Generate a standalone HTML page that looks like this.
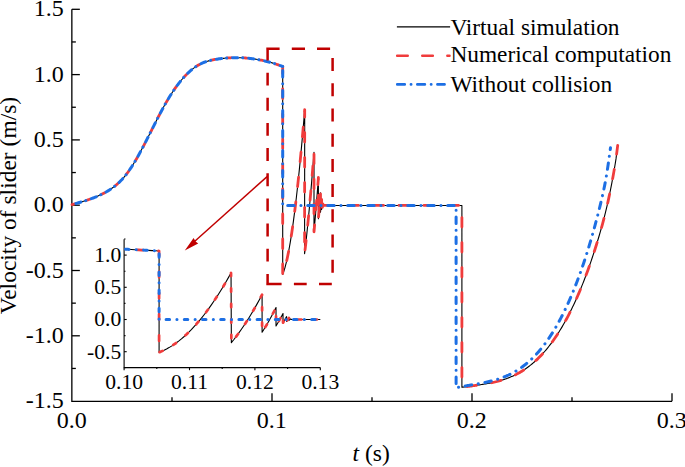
<!DOCTYPE html>
<html><head><meta charset="utf-8"><style>
html,body{margin:0;padding:0;background:#fff;width:685px;height:467px;overflow:hidden;font-family:"Liberation Serif",serif;}
svg{display:block;}
</style></head><body>
<svg width="685" height="467" viewBox="0 0 685 467">
<rect width="685" height="467" fill="#fff"/>
<g style="font-family:&quot;Liberation Serif&quot;,serif" fill="#000">
<text x="63.7" y="16.40" font-size="24.0" text-anchor="end">1.5</text>
<text x="63.7" y="81.70" font-size="24.0" text-anchor="end">1.0</text>
<text x="63.7" y="147.00" font-size="24.0" text-anchor="end">0.5</text>
<text x="63.7" y="212.30" font-size="24.0" text-anchor="end">0.0</text>
<text x="63.7" y="277.60" font-size="24.0" text-anchor="end">-0.5</text>
<text x="63.7" y="342.90" font-size="24.0" text-anchor="end">-1.0</text>
<text x="63.7" y="408.20" font-size="24.0" text-anchor="end">-1.5</text>
<text x="71.70" y="428.1" font-size="24.0" text-anchor="middle">0.0</text>
<text x="271.70" y="428.1" font-size="24.0" text-anchor="middle">0.1</text>
<text x="471.70" y="428.1" font-size="24.0" text-anchor="middle">0.2</text>
<text x="671.70" y="428.1" font-size="24.0" text-anchor="middle">0.3</text>
<text x="371.2" y="460.8" font-size="23.5" text-anchor="middle"><tspan font-style="italic">t</tspan> (s)</text>
<text transform="translate(16.2,205.5) rotate(-90)" font-size="23.5" text-anchor="middle">Velocity of slider (m/s)</text>
<text x="450.4" y="34.7" font-size="23.35">Virtual simulation</text>
<text x="450.4" y="62.4" font-size="23.35">Numerical computation</text>
<text x="450.4" y="91.9" font-size="23.35">Without collision</text>
<text x="121.2" y="262.00" font-size="21.6" text-anchor="end">1.0</text>
<text x="121.2" y="294.20" font-size="21.6" text-anchor="end">0.5</text>
<text x="121.2" y="326.40" font-size="21.6" text-anchor="end">0.0</text>
<text x="121.2" y="358.60" font-size="21.6" text-anchor="end">-0.5</text>
<text x="124.10" y="389" font-size="21.6" text-anchor="middle">0.10</text>
<text x="189.50" y="389" font-size="21.6" text-anchor="middle">0.11</text>
<text x="254.90" y="389" font-size="21.6" text-anchor="middle">0.12</text>
<text x="320.30" y="389" font-size="21.6" text-anchor="middle">0.13</text>
</g>
<g stroke="#000" stroke-width="1.3" fill="none">
<path d="M71.85,9.3 V401.3 H672"/>
<line x1="71.85" y1="368.45" x2="75.85" y2="368.45"/><line x1="71.85" y1="335.80" x2="79.85" y2="335.80"/><line x1="71.85" y1="303.15" x2="75.85" y2="303.15"/><line x1="71.85" y1="270.50" x2="79.85" y2="270.50"/><line x1="71.85" y1="237.85" x2="75.85" y2="237.85"/><line x1="71.85" y1="205.20" x2="79.85" y2="205.20"/><line x1="71.85" y1="172.55" x2="75.85" y2="172.55"/><line x1="71.85" y1="139.90" x2="79.85" y2="139.90"/><line x1="71.85" y1="107.25" x2="75.85" y2="107.25"/><line x1="71.85" y1="74.60" x2="79.85" y2="74.60"/><line x1="71.85" y1="41.95" x2="75.85" y2="41.95"/><line x1="71.85" y1="9.30" x2="79.85" y2="9.30"/>
<line x1="172.00" y1="401.3" x2="172.00" y2="397.30"/><line x1="272.00" y1="401.3" x2="272.00" y2="393.30"/><line x1="372.00" y1="401.3" x2="372.00" y2="397.30"/><line x1="472.00" y1="401.3" x2="472.00" y2="393.30"/><line x1="572.00" y1="401.3" x2="572.00" y2="397.30"/><line x1="672.00" y1="401.3" x2="672.00" y2="393.30"/>
</g>
<g stroke="#000" stroke-width="1.1" fill="none">
<path d="M124.10,239.2 V367.6 H320.30"/>
<line x1="124.10" y1="367.80" x2="125.50" y2="367.80"/><line x1="124.10" y1="351.70" x2="126.70" y2="351.70"/><line x1="124.10" y1="335.60" x2="125.50" y2="335.60"/><line x1="124.10" y1="319.50" x2="126.70" y2="319.50"/><line x1="124.10" y1="303.40" x2="125.50" y2="303.40"/><line x1="124.10" y1="287.30" x2="126.70" y2="287.30"/><line x1="124.10" y1="271.20" x2="125.50" y2="271.20"/><line x1="124.10" y1="255.10" x2="126.70" y2="255.10"/><line x1="124.10" y1="239.00" x2="125.50" y2="239.00"/>
<line x1="124.10" y1="367.6" x2="124.10" y2="370.20"/><line x1="156.80" y1="367.6" x2="156.80" y2="369.00"/><line x1="189.50" y1="367.6" x2="189.50" y2="370.20"/><line x1="222.20" y1="367.6" x2="222.20" y2="369.00"/><line x1="254.90" y1="367.6" x2="254.90" y2="370.20"/><line x1="287.60" y1="367.6" x2="287.60" y2="369.00"/><line x1="320.30" y1="367.6" x2="320.30" y2="370.20"/>
</g>
<path d="M72.00,204.60 L73.06,204.30 L74.12,204.00 L75.18,203.70 L76.24,203.40 L77.29,203.10 L78.35,202.80 L79.41,202.49 L80.47,202.19 L81.53,201.87 L82.59,201.56 L83.65,201.23 L84.71,200.90 L85.76,200.57 L86.82,200.23 L87.88,199.88 L88.94,199.52 L90.00,199.15 L91.06,198.77 L92.12,198.38 L93.18,197.99 L94.23,197.58 L95.29,197.15 L96.35,196.72 L97.41,196.27 L98.47,195.80 L99.53,195.32 L100.59,194.83 L101.65,194.32 L102.71,193.79 L103.76,193.25 L104.82,192.69 L105.88,192.10 L106.94,191.50 L108.00,190.87 L109.06,190.21 L110.12,189.53 L111.18,188.82 L112.23,188.07 L113.29,187.30 L114.35,186.48 L115.41,185.64 L116.47,184.75 L117.53,183.83 L118.59,182.86 L119.65,181.85 L120.70,180.79 L121.76,179.69 L122.82,178.53 L123.88,177.33 L124.94,176.07 L126.00,174.76 L127.06,173.39 L128.12,171.97 L129.17,170.49 L130.23,168.95 L131.29,167.36 L132.35,165.71 L133.41,164.02 L134.47,162.29 L135.53,160.51 L136.59,158.69 L137.65,156.84 L138.70,154.95 L139.76,153.02 L140.82,151.07 L141.88,149.10 L142.94,147.09 L144.00,145.07 L145.06,143.03 L146.12,140.97 L147.17,138.90 L148.23,136.82 L149.29,134.73 L150.35,132.63 L151.41,130.54 L152.47,128.44 L153.53,126.34 L154.59,124.25 L155.64,122.17 L156.70,120.10 L157.76,118.04 L158.82,116.00 L159.88,113.97 L160.94,111.97 L162.00,109.99 L163.06,108.04 L164.12,106.11 L165.17,104.22 L166.23,102.36 L167.29,100.54 L168.35,98.76 L169.41,97.02 L170.47,95.32 L171.53,93.65 L172.59,92.03 L173.64,90.45 L174.70,88.91 L175.76,87.41 L176.82,85.95 L177.88,84.53 L178.94,83.15 L180.00,81.81 L181.06,80.51 L182.11,79.25 L183.17,78.04 L184.23,76.86 L185.29,75.72 L186.35,74.63 L187.41,73.58 L188.47,72.56 L189.53,71.59 L190.58,70.66 L191.64,69.77 L192.70,68.92 L193.76,68.11 L194.82,67.35 L195.88,66.62 L196.94,65.94 L198.00,65.30 L199.06,64.70 L200.11,64.14 L201.17,63.61 L202.23,63.13 L203.29,62.68 L204.35,62.26 L205.41,61.88 L206.47,61.52 L207.53,61.19 L208.58,60.89 L209.64,60.61 L210.70,60.35 L211.76,60.11 L212.82,59.89 L213.88,59.68 L214.94,59.49 L216.00,59.32 L217.05,59.15 L218.11,58.99 L219.17,58.84 L220.23,58.70 L221.29,58.57 L222.35,58.45 L223.41,58.33 L224.47,58.23 L225.53,58.13 L226.58,58.04 L227.64,57.96 L228.70,57.89 L229.76,57.83 L230.82,57.78 L231.88,57.74 L232.94,57.70 L234.00,57.68 L235.05,57.66 L236.11,57.66 L237.17,57.66 L238.23,57.67 L239.29,57.69 L240.35,57.72 L241.41,57.76 L242.47,57.80 L243.52,57.86 L244.58,57.93 L245.64,58.00 L246.70,58.08 L247.76,58.18 L248.82,58.28 L249.88,58.39 L250.94,58.51 L251.99,58.64 L253.05,58.78 L254.11,58.93 L255.17,59.09 L256.23,59.25 L257.29,59.43 L258.35,59.62 L259.41,59.81 L260.47,60.02 L261.52,60.23 L262.58,60.45 L263.64,60.69 L264.70,60.93 L265.76,61.18 L266.82,61.44 L267.88,61.71 L268.94,61.99 L269.99,62.28 L271.05,62.58 L272.11,62.89 L273.17,63.21 L274.23,63.53 L275.29,63.87 L276.35,64.22 L277.41,64.58 L278.46,64.94 L279.52,65.32 L280.58,65.70 L281.64,66.10 L282.70,66.50 L282.70,274.54 L282.70,274.54 L283.46,272.47 L284.22,270.14 L284.98,267.55 L285.74,264.70 L286.50,261.58 L287.25,258.20 L288.01,254.57 L288.77,250.67 L289.53,246.51 L290.29,242.10 L291.05,237.42 L291.81,232.49 L292.56,227.30 L293.32,221.86 L294.08,216.16 L294.84,210.20 L295.60,203.99 L296.36,197.52 L297.12,190.80 L297.87,183.82 L298.63,176.59 L299.39,169.11 L300.15,161.38 L300.91,153.40 L301.67,145.16 L302.42,136.68 L303.18,127.94 L303.94,118.95 L304.70,109.72 L304.60,253.77 L305.38,247.02 L306.17,239.96 L306.95,232.59 L307.73,224.91 L308.52,216.92 L309.30,208.62 L310.08,200.00 L310.87,191.08 L311.65,181.85 L312.43,172.31 L313.22,162.46 L314.00,152.30 L314.00,231.83 L314.37,227.80 L314.73,223.68 L315.10,219.47 L315.47,215.17 L315.83,210.78 L316.20,206.30 L316.57,201.72 L316.93,197.06 L317.30,192.31 L317.67,187.46 L318.03,182.53 L318.40,177.50 L318.40,218.64 L318.58,216.61 L318.75,214.57 L318.93,212.50 L319.10,210.41 L319.27,208.30 L319.45,206.16 L319.62,204.01 L319.80,201.83 L319.98,199.63 L320.15,197.41 L320.32,195.17 L320.50,192.91 L320.50,212.24 L320.60,211.16 L320.69,210.09 L320.78,209.01 L320.88,207.93 L320.98,206.85 L321.07,205.78 L321.16,204.70 L321.26,203.62 L321.36,202.54 L321.45,201.47 L321.54,200.39 L321.64,199.31 L321.64,209.37 L321.70,208.77 L321.76,208.17 L321.82,207.57 L321.88,206.97 L321.94,206.38 L322.00,205.78 L322.06,205.18 L322.12,204.58 L322.18,203.98 L322.24,203.38 L322.30,202.78 L322.36,202.19 L322.36,207.41 L322.41,207.14 L322.45,206.86 L322.50,206.59 L322.55,206.32 L322.59,206.05 L322.64,205.78 L322.69,205.50 L322.73,205.23 L322.78,204.96 L322.83,204.69 L322.87,204.42 L322.92,204.14 L323.20,205.45 L461.90,205.45 L461.90,387.32 L461.90,387.32 L462.93,387.16 L463.97,387.00 L465.00,386.85 L466.04,386.71 L467.07,386.56 L468.11,386.42 L469.14,386.28 L470.17,386.14 L471.21,386.00 L472.24,385.86 L473.28,385.72 L474.31,385.58 L475.34,385.44 L476.38,385.29 L477.41,385.15 L478.45,385.00 L479.48,384.86 L480.52,384.70 L481.55,384.55 L482.58,384.39 L483.62,384.22 L484.65,384.06 L485.69,383.88 L486.72,383.70 L487.76,383.52 L488.79,383.33 L489.82,383.13 L490.86,382.92 L491.89,382.71 L492.93,382.48 L493.96,382.25 L495.00,382.01 L496.03,381.76 L497.06,381.50 L498.10,381.23 L499.13,380.95 L500.17,380.66 L501.20,380.36 L502.23,380.04 L503.27,379.72 L504.30,379.38 L505.34,379.02 L506.37,378.65 L507.41,378.27 L508.44,377.88 L509.47,377.46 L510.51,377.04 L511.54,376.60 L512.58,376.14 L513.61,375.66 L514.65,375.17 L515.68,374.66 L516.71,374.13 L517.75,373.58 L518.78,373.02 L519.82,372.43 L520.85,371.83 L521.89,371.20 L522.92,370.56 L523.95,369.89 L524.99,369.20 L526.02,368.49 L527.06,367.76 L528.09,367.01 L529.12,366.23 L530.16,365.43 L531.19,364.60 L532.23,363.75 L533.26,362.88 L534.30,361.98 L535.33,361.05 L536.36,360.10 L537.40,359.13 L538.43,358.12 L539.47,357.09 L540.50,356.03 L541.54,354.94 L542.57,353.82 L543.60,352.68 L544.64,351.50 L545.67,350.30 L546.71,349.06 L547.74,347.80 L548.78,346.50 L549.81,345.17 L550.84,343.81 L551.88,342.41 L552.91,340.99 L553.95,339.53 L554.98,338.03 L556.01,336.51 L557.05,334.94 L558.08,333.35 L559.12,331.71 L560.15,330.04 L561.19,328.34 L562.22,326.60 L563.25,324.82 L564.29,323.00 L565.32,321.15 L566.36,319.25 L567.39,317.32 L568.43,315.35 L569.46,313.34 L570.49,311.29 L571.53,309.20 L572.56,307.06 L573.60,304.89 L574.63,302.67 L575.67,300.41 L576.70,298.11 L577.73,295.76 L578.77,293.37 L579.80,290.93 L580.84,288.44 L581.87,285.91 L582.90,283.33 L583.94,280.69 L584.97,278.01 L586.01,275.28 L587.04,272.49 L588.08,269.66 L589.11,266.77 L590.14,263.82 L591.18,260.82 L592.21,257.76 L593.25,254.65 L594.28,251.48 L595.32,248.26 L596.35,244.97 L597.38,241.62 L598.42,238.22 L599.45,234.74 L600.49,231.18 L601.52,227.52 L602.56,223.76 L603.59,219.87 L604.62,215.85 L605.66,211.67 L606.69,207.34 L607.73,202.83 L608.76,198.14 L609.79,193.24 L610.83,188.13 L611.86,182.79 L612.90,177.21 L613.93,171.37 L614.97,165.27 L616.00,158.89 L617.70,145.30" fill="none" stroke="#000" stroke-width="1.1" stroke-linejoin="round"/>
<path d="M72.00,204.60 L73.06,204.30 L74.12,204.00 L75.18,203.70 L76.24,203.40 L77.29,203.10 L78.35,202.80 L79.41,202.49 L80.47,202.19 L81.53,201.87 L82.59,201.56 L83.65,201.23 L84.71,200.90 L85.76,200.57 L86.82,200.23 L87.88,199.88 L88.94,199.52 L90.00,199.15 L91.06,198.77 L92.12,198.38 L93.18,197.99 L94.23,197.58 L95.29,197.15 L96.35,196.72 L97.41,196.27 L98.47,195.80 L99.53,195.32 L100.59,194.83 L101.65,194.32 L102.71,193.79 L103.76,193.25 L104.82,192.69 L105.88,192.10 L106.94,191.50 L108.00,190.87 L109.06,190.21 L110.12,189.53 L111.18,188.82 L112.23,188.07 L113.29,187.30 L114.35,186.48 L115.41,185.64 L116.47,184.75 L117.53,183.83 L118.59,182.86 L119.65,181.85 L120.70,180.79 L121.76,179.69 L122.82,178.53 L123.88,177.33 L124.94,176.07 L126.00,174.76 L127.06,173.39 L128.12,171.97 L129.17,170.49 L130.23,168.95 L131.29,167.36 L132.35,165.71 L133.41,164.02 L134.47,162.29 L135.53,160.51 L136.59,158.69 L137.65,156.84 L138.70,154.95 L139.76,153.02 L140.82,151.07 L141.88,149.10 L142.94,147.09 L144.00,145.07 L145.06,143.03 L146.12,140.97 L147.17,138.90 L148.23,136.82 L149.29,134.73 L150.35,132.63 L151.41,130.54 L152.47,128.44 L153.53,126.34 L154.59,124.25 L155.64,122.17 L156.70,120.10 L157.76,118.04 L158.82,116.00 L159.88,113.97 L160.94,111.97 L162.00,109.99 L163.06,108.04 L164.12,106.11 L165.17,104.22 L166.23,102.36 L167.29,100.54 L168.35,98.76 L169.41,97.02 L170.47,95.32 L171.53,93.65 L172.59,92.03 L173.64,90.45 L174.70,88.91 L175.76,87.41 L176.82,85.95 L177.88,84.53 L178.94,83.15 L180.00,81.81 L181.06,80.51 L182.11,79.25 L183.17,78.04 L184.23,76.86 L185.29,75.72 L186.35,74.63 L187.41,73.58 L188.47,72.56 L189.53,71.59 L190.58,70.66 L191.64,69.77 L192.70,68.92 L193.76,68.11 L194.82,67.35 L195.88,66.62 L196.94,65.94 L198.00,65.30 L199.06,64.70 L200.11,64.14 L201.17,63.61 L202.23,63.13 L203.29,62.68 L204.35,62.26 L205.41,61.88 L206.47,61.52 L207.53,61.19 L208.58,60.89 L209.64,60.61 L210.70,60.35 L211.76,60.11 L212.82,59.89 L213.88,59.68 L214.94,59.49 L216.00,59.32 L217.05,59.15 L218.11,58.99 L219.17,58.84 L220.23,58.70 L221.29,58.57 L222.35,58.45 L223.41,58.33 L224.47,58.23 L225.53,58.13 L226.58,58.04 L227.64,57.96 L228.70,57.89 L229.76,57.83 L230.82,57.78 L231.88,57.74 L232.94,57.70 L234.00,57.68 L235.05,57.66 L236.11,57.66 L237.17,57.66 L238.23,57.67 L239.29,57.69 L240.35,57.72 L241.41,57.76 L242.47,57.80 L243.52,57.86 L244.58,57.93 L245.64,58.00 L246.70,58.08 L247.76,58.18 L248.82,58.28 L249.88,58.39 L250.94,58.51 L251.99,58.64 L253.05,58.78 L254.11,58.93 L255.17,59.09 L256.23,59.25 L257.29,59.43 L258.35,59.62 L259.41,59.81 L260.47,60.02 L261.52,60.23 L262.58,60.45 L263.64,60.69 L264.70,60.93 L265.76,61.18 L266.82,61.44 L267.88,61.71 L268.94,61.99 L269.99,62.28 L271.05,62.58 L272.11,62.89 L273.17,63.21 L274.23,63.53 L275.29,63.87 L276.35,64.22 L277.41,64.58 L278.46,64.94 L279.52,65.32 L280.58,65.70 L281.64,66.10 L282.70,66.50" fill="none" stroke="#f03c3c" stroke-width="2.8" stroke-dasharray="3.8 12.4" stroke-dashoffset="1.14" stroke-linecap="round" stroke-linejoin="round"/>
<path d="M282.70,66.50 L282.70,274.54 L282.70,274.54 L283.46,272.47 L284.22,270.14 L284.98,267.55 L285.74,264.70 L286.50,261.58 L287.25,258.20 L288.01,254.57 L288.77,250.67 L289.53,246.51 L290.29,242.10 L291.05,237.42 L291.81,232.49 L292.56,227.30 L293.32,221.86 L294.08,216.16 L294.84,210.20 L295.60,203.99 L296.36,197.52 L297.12,190.80 L297.87,183.82 L298.63,176.59 L299.39,169.11 L300.15,161.38 L300.91,153.40 L301.67,145.16 L302.42,136.68 L303.18,127.94 L303.94,118.95 L304.70,109.72 L304.60,253.77 L305.38,247.02 L306.17,239.96 L306.95,232.59 L307.73,224.91 L308.52,216.92 L309.30,208.62 L310.08,200.00 L310.87,191.08 L311.65,181.85 L312.43,172.31 L313.22,162.46 L314.00,152.30 L314.00,231.83 L314.37,227.80 L314.73,223.68 L315.10,219.47 L315.47,215.17 L315.83,210.78 L316.20,206.30 L316.57,201.72 L316.93,197.06 L317.30,192.31 L317.67,187.46 L318.03,182.53 L318.40,177.50 L318.40,218.64 L318.58,216.61 L318.75,214.57 L318.93,212.50 L319.10,210.41 L319.27,208.30 L319.45,206.16 L319.62,204.01 L319.80,201.83 L319.98,199.63 L320.15,197.41 L320.32,195.17 L320.50,192.91 L320.50,212.24 L320.60,211.16 L320.69,210.09 L320.78,209.01 L320.88,207.93 L320.98,206.85 L321.07,205.78 L321.16,204.70 L321.26,203.62 L321.36,202.54 L321.45,201.47 L321.54,200.39 L321.64,199.31 L321.64,209.37 L321.70,208.77 L321.76,208.17 L321.82,207.57 L321.88,206.97 L321.94,206.38 L322.00,205.78 L322.06,205.18 L322.12,204.58 L322.18,203.98 L322.24,203.38 L322.30,202.78 L322.36,202.19 L322.36,207.41 L322.41,207.14 L322.45,206.86 L322.50,206.59 L322.55,206.32 L322.59,206.05 L322.64,205.78 L322.69,205.50 L322.73,205.23 L322.78,204.96 L322.83,204.69 L322.87,204.42 L322.92,204.14 L323.20,205.45" fill="none" stroke="#f03c3c" stroke-width="2.8" stroke-dasharray="9.50 15.50" stroke-dashoffset="2.50" stroke-linecap="round" stroke-linejoin="round"/>
<path d="M323.20,205.45 L461.90,205.45 L461.90,387.32 L461.90,387.32 L462.93,387.16 L463.97,387.00 L465.00,386.85 L466.04,386.71 L467.07,386.56 L468.11,386.42 L469.14,386.28 L470.17,386.14 L471.21,386.00 L472.24,385.86 L473.28,385.72 L474.31,385.58 L475.34,385.44 L476.38,385.29 L477.41,385.15 L478.45,385.00 L479.48,384.86 L480.52,384.70 L481.55,384.55 L482.58,384.39 L483.62,384.22 L484.65,384.06 L485.69,383.88 L486.72,383.70 L487.76,383.52 L488.79,383.33 L489.82,383.13 L490.86,382.92 L491.89,382.71 L492.93,382.48 L493.96,382.25 L495.00,382.01 L496.03,381.76 L497.06,381.50 L498.10,381.23 L499.13,380.95 L500.17,380.66 L501.20,380.36 L502.23,380.04 L503.27,379.72 L504.30,379.38 L505.34,379.02 L506.37,378.65 L507.41,378.27 L508.44,377.88 L509.47,377.46 L510.51,377.04 L511.54,376.60 L512.58,376.14 L513.61,375.66 L514.65,375.17 L515.68,374.66 L516.71,374.13 L517.75,373.58 L518.78,373.02 L519.82,372.43 L520.85,371.83 L521.89,371.20 L522.92,370.56 L523.95,369.89 L524.99,369.20 L526.02,368.49 L527.06,367.76 L528.09,367.01 L529.12,366.23 L530.16,365.43 L531.19,364.60 L532.23,363.75 L533.26,362.88 L534.30,361.98 L535.33,361.05 L536.36,360.10 L537.40,359.13 L538.43,358.12 L539.47,357.09 L540.50,356.03 L541.54,354.94 L542.57,353.82 L543.60,352.68 L544.64,351.50 L545.67,350.30 L546.71,349.06 L547.74,347.80 L548.78,346.50 L549.81,345.17 L550.84,343.81 L551.88,342.41 L552.91,340.99 L553.95,339.53 L554.98,338.03 L556.01,336.51 L557.05,334.94 L558.08,333.35 L559.12,331.71 L560.15,330.04 L561.19,328.34 L562.22,326.60 L563.25,324.82 L564.29,323.00 L565.32,321.15 L566.36,319.25 L567.39,317.32 L568.43,315.35 L569.46,313.34 L570.49,311.29 L571.53,309.20 L572.56,307.06 L573.60,304.89 L574.63,302.67 L575.67,300.41 L576.70,298.11 L577.73,295.76 L578.77,293.37 L579.80,290.93 L580.84,288.44 L581.87,285.91 L582.90,283.33 L583.94,280.69 L584.97,278.01 L586.01,275.28 L587.04,272.49 L588.08,269.66 L589.11,266.77 L590.14,263.82 L591.18,260.82 L592.21,257.76 L593.25,254.65 L594.28,251.48 L595.32,248.26 L596.35,244.97 L597.38,241.62 L598.42,238.22 L599.45,234.74 L600.49,231.18 L601.52,227.52 L602.56,223.76 L603.59,219.87 L604.62,215.85 L605.66,211.67 L606.69,207.34 L607.73,202.83 L608.76,198.14 L609.79,193.24 L610.83,188.13 L611.86,182.79 L612.90,177.21 L613.93,171.37 L614.97,165.27 L616.00,158.89 L617.70,145.30" fill="none" stroke="#f03c3c" stroke-width="2.8" stroke-dasharray="9.50 15.50" stroke-dashoffset="24.20" stroke-linecap="round" stroke-linejoin="round"/>
<path d="M72.00,204.60 L73.06,204.30 L74.12,204.00 L75.18,203.70 L76.24,203.40 L77.29,203.10 L78.35,202.80 L79.41,202.49 L80.47,202.19 L81.53,201.87 L82.59,201.56 L83.65,201.23 L84.71,200.90 L85.76,200.57 L86.82,200.23 L87.88,199.88 L88.94,199.52 L90.00,199.15 L91.06,198.77 L92.12,198.38 L93.18,197.99 L94.23,197.58 L95.29,197.15 L96.35,196.72 L97.41,196.27 L98.47,195.80 L99.53,195.32 L100.59,194.83 L101.65,194.32 L102.71,193.79 L103.76,193.25 L104.82,192.69 L105.88,192.10 L106.94,191.50 L108.00,190.87 L109.06,190.21 L110.12,189.53 L111.18,188.82 L112.23,188.07 L113.29,187.30 L114.35,186.48 L115.41,185.64 L116.47,184.75 L117.53,183.83 L118.59,182.86 L119.65,181.85 L120.70,180.79 L121.76,179.69 L122.82,178.53 L123.88,177.33 L124.94,176.07 L126.00,174.76 L127.06,173.39 L128.12,171.97 L129.17,170.49 L130.23,168.95 L131.29,167.36 L132.35,165.71 L133.41,164.02 L134.47,162.29 L135.53,160.51 L136.59,158.69 L137.65,156.84 L138.70,154.95 L139.76,153.02 L140.82,151.07 L141.88,149.10 L142.94,147.09 L144.00,145.07 L145.06,143.03 L146.12,140.97 L147.17,138.90 L148.23,136.82 L149.29,134.73 L150.35,132.63 L151.41,130.54 L152.47,128.44 L153.53,126.34 L154.59,124.25 L155.64,122.17 L156.70,120.10 L157.76,118.04 L158.82,116.00 L159.88,113.97 L160.94,111.97 L162.00,109.99 L163.06,108.04 L164.12,106.11 L165.17,104.22 L166.23,102.36 L167.29,100.54 L168.35,98.76 L169.41,97.02 L170.47,95.32 L171.53,93.65 L172.59,92.03 L173.64,90.45 L174.70,88.91 L175.76,87.41 L176.82,85.95 L177.88,84.53 L178.94,83.15 L180.00,81.81 L181.06,80.51 L182.11,79.25 L183.17,78.04 L184.23,76.86 L185.29,75.72 L186.35,74.63 L187.41,73.58 L188.47,72.56 L189.53,71.59 L190.58,70.66 L191.64,69.77 L192.70,68.92 L193.76,68.11 L194.82,67.35 L195.88,66.62 L196.94,65.94 L198.00,65.30 L199.06,64.70 L200.11,64.14 L201.17,63.61 L202.23,63.13 L203.29,62.68 L204.35,62.26 L205.41,61.88 L206.47,61.52 L207.53,61.19 L208.58,60.89 L209.64,60.61 L210.70,60.35 L211.76,60.11 L212.82,59.89 L213.88,59.68 L214.94,59.49 L216.00,59.32 L217.05,59.15 L218.11,58.99 L219.17,58.84 L220.23,58.70 L221.29,58.57 L222.35,58.45 L223.41,58.33 L224.47,58.23 L225.53,58.13 L226.58,58.04 L227.64,57.96 L228.70,57.89 L229.76,57.83 L230.82,57.78 L231.88,57.74 L232.94,57.70 L234.00,57.68 L235.05,57.66 L236.11,57.66 L237.17,57.66 L238.23,57.67 L239.29,57.69 L240.35,57.72 L241.41,57.76 L242.47,57.80 L243.52,57.86 L244.58,57.93 L245.64,58.00 L246.70,58.08 L247.76,58.18 L248.82,58.28 L249.88,58.39 L250.94,58.51 L251.99,58.64 L253.05,58.78 L254.11,58.93 L255.17,59.09 L256.23,59.25 L257.29,59.43 L258.35,59.62 L259.41,59.81 L260.47,60.02 L261.52,60.23 L262.58,60.45 L263.64,60.69 L264.70,60.93 L265.76,61.18 L266.82,61.44 L267.88,61.71 L268.94,61.99 L269.99,62.28 L271.05,62.58 L272.11,62.89 L273.17,63.21 L274.23,63.53 L275.29,63.87 L276.35,64.22 L277.41,64.58 L278.46,64.94 L279.52,65.32 L280.58,65.70 L281.64,66.10 L282.70,66.50" fill="none" stroke="#1d6fe4" stroke-width="3.0" stroke-dasharray="5.2 5.0 0.1 5.9" stroke-dashoffset="12.14" stroke-linecap="round" stroke-linejoin="round"/>
<path d="M282.70,66.50 L282.70,66.50 L282.70,205.45 L456.10,205.45 L456.10,387.77 L456.10,387.77 L457.07,387.55 L458.04,387.35 L459.01,387.15 L459.98,386.95 L460.96,386.77 L461.93,386.58 L462.90,386.40 L463.87,386.22 L464.84,386.05 L465.81,385.87 L466.78,385.71 L467.75,385.54 L468.72,385.37 L469.69,385.21 L470.67,385.04 L471.64,384.88 L472.61,384.72 L473.58,384.55 L474.55,384.39 L475.52,384.22 L476.49,384.05 L477.46,383.88 L478.43,383.71 L479.41,383.54 L480.38,383.36 L481.35,383.18 L482.32,382.99 L483.29,382.80 L484.26,382.61 L485.23,382.41 L486.20,382.20 L487.17,381.99 L488.15,381.77 L489.12,381.55 L490.09,381.31 L491.06,381.07 L492.03,380.83 L493.00,380.57 L493.97,380.30 L494.94,380.03 L495.91,379.75 L496.88,379.45 L497.86,379.15 L498.83,378.83 L499.80,378.50 L500.77,378.17 L501.74,377.82 L502.71,377.45 L503.68,377.08 L504.65,376.69 L505.62,376.29 L506.60,375.87 L507.57,375.44 L508.54,375.00 L509.51,374.53 L510.48,374.06 L511.45,373.57 L512.42,373.06 L513.39,372.53 L514.36,371.99 L515.34,371.43 L516.31,370.85 L517.28,370.25 L518.25,369.64 L519.22,369.00 L520.19,368.35 L521.16,367.67 L522.13,366.98 L523.10,366.26 L524.07,365.52 L525.05,364.77 L526.02,363.99 L526.99,363.18 L527.96,362.36 L528.93,361.51 L529.90,360.63 L530.87,359.74 L531.84,358.82 L532.81,357.87 L533.79,356.90 L534.76,355.90 L535.73,354.88 L536.70,353.83 L537.67,352.75 L538.64,351.65 L539.61,350.52 L540.58,349.36 L541.55,348.17 L542.53,346.96 L543.50,345.71 L544.47,344.44 L545.44,343.13 L546.41,341.79 L547.38,340.43 L548.35,339.03 L549.32,337.60 L550.29,336.14 L551.26,334.65 L552.24,333.12 L553.21,331.56 L554.18,329.97 L555.15,328.34 L556.12,326.68 L557.09,324.98 L558.06,323.25 L559.03,321.48 L560.00,319.68 L560.98,317.84 L561.95,315.96 L562.92,314.05 L563.89,312.10 L564.86,310.11 L565.83,308.08 L566.80,306.01 L567.77,303.90 L568.74,301.76 L569.72,299.57 L570.69,297.34 L571.66,295.06 L572.63,292.75 L573.60,290.39 L574.57,287.98 L575.54,285.53 L576.51,283.03 L577.48,280.48 L578.45,277.89 L579.43,275.24 L580.40,272.55 L581.37,269.80 L582.34,267.00 L583.31,264.15 L584.28,261.25 L585.25,258.29 L586.22,255.28 L587.19,252.21 L588.17,249.09 L589.14,245.91 L590.11,242.67 L591.08,239.37 L592.05,236.02 L593.02,232.60 L593.99,229.12 L594.96,225.58 L595.93,221.98 L596.91,218.31 L597.88,214.57 L598.85,210.75 L599.82,206.83 L600.79,202.81 L601.76,198.68 L602.73,194.43 L603.70,190.04 L604.67,185.39 L605.64,180.31 L606.62,174.62 L607.59,168.37 L608.56,161.72 L609.53,154.81 L610.50,147.80" fill="none" stroke="#1d6fe4" stroke-width="3.0" stroke-dasharray="6.50 6.70 0.1 6.70" stroke-dashoffset="16.05" stroke-linecap="round" stroke-linejoin="round"/>
<path d="M124.10,249.19 L124.47,249.20 L127.93,249.36 L131.39,249.52 L134.85,249.69 L138.32,249.86 L141.78,250.03 L145.24,250.21 L148.70,250.40 L152.16,250.59 L155.63,250.78 L159.09,250.98 L159.09,352.34 L159.10,352.34 L161.58,351.35 L164.06,350.23 L166.54,348.98 L169.02,347.60 L171.50,346.10 L173.98,344.47 L176.46,342.72 L178.94,340.84 L181.42,338.84 L183.90,336.72 L186.38,334.46 L188.86,332.09 L191.35,329.59 L193.83,326.96 L196.31,324.22 L198.79,321.35 L201.27,318.35 L203.75,315.24 L206.23,312.00 L208.71,308.64 L211.19,305.16 L213.67,301.55 L216.15,297.83 L218.63,293.98 L221.11,290.01 L223.59,285.93 L226.07,281.72 L228.55,277.39 L231.03,272.94 L231.36,342.68 L233.92,339.49 L236.48,336.14 L239.04,332.66 L241.60,329.02 L244.16,325.24 L246.72,321.31 L249.29,317.23 L251.85,313.00 L254.41,308.63 L256.97,304.12 L259.53,299.45 L262.09,294.64 L262.09,332.25 L263.25,330.42 L264.42,328.55 L265.58,326.64 L266.74,324.69 L267.90,322.69 L269.06,320.66 L270.22,318.58 L271.38,316.47 L272.54,314.31 L273.70,312.11 L274.86,309.87 L276.02,307.59 L276.02,325.94 L276.61,324.96 L277.19,323.97 L277.77,322.97 L278.36,321.96 L278.94,320.94 L279.52,319.91 L280.11,318.87 L280.69,317.82 L281.27,316.76 L281.86,315.69 L282.44,314.60 L283.02,313.51 L283.02,322.72 L283.32,322.21 L283.62,321.70 L283.92,321.19 L284.22,320.68 L284.52,320.17 L284.82,319.66 L285.12,319.15 L285.42,318.64 L285.72,318.13 L286.02,317.62 L286.32,317.11 L286.62,316.60 L286.62,321.43 L286.81,321.14 L287.00,320.84 L287.19,320.55 L287.38,320.25 L287.57,319.96 L287.76,319.66 L287.95,319.37 L288.14,319.07 L288.34,318.78 L288.53,318.48 L288.72,318.19 L288.91,317.89 L288.91,320.47 L289.05,320.33 L289.19,320.20 L289.33,320.06 L289.47,319.93 L289.62,319.80 L289.76,319.66 L289.90,319.53 L290.04,319.39 L290.18,319.26 L290.32,319.12 L290.47,318.99 L290.61,318.86 L291.52,319.50 L320.30,319.50" fill="none" stroke="#000" stroke-width="1.1" stroke-linejoin="round"/>
<path d="M124.10,249.19 L124.47,249.20 L127.93,249.36 L131.39,249.52 L134.85,249.69 L138.32,249.86 L141.78,250.03 L145.24,250.21 L148.70,250.40 L152.16,250.59 L155.63,250.78 L159.09,250.98 L159.09,352.34" fill="none" stroke="#f03c3c" stroke-width="2.7" stroke-dasharray="5.60 15.60" stroke-dashoffset="7.85" stroke-linecap="round" stroke-linejoin="round"/>
<path d="M159.09,352.34 L159.10,352.34 L161.58,351.35 L164.06,350.23 L166.54,348.98 L169.02,347.60 L171.50,346.10 L173.98,344.47 L176.46,342.72 L178.94,340.84 L181.42,338.84 L183.90,336.72 L186.38,334.46 L188.86,332.09 L191.35,329.59 L193.83,326.96 L196.31,324.22 L198.79,321.35 L201.27,318.35 L203.75,315.24 L206.23,312.00 L208.71,308.64 L211.19,305.16 L213.67,301.55 L216.15,297.83 L218.63,293.98 L221.11,290.01 L223.59,285.93 L226.07,281.72 L228.55,277.39 L231.03,272.94 L231.36,342.68 L233.92,339.49 L236.48,336.14 L239.04,332.66 L241.60,329.02 L244.16,325.24 L246.72,321.31 L249.29,317.23 L251.85,313.00 L254.41,308.63 L256.97,304.12 L259.53,299.45 L262.09,294.64 L262.09,332.25 L263.25,330.42 L264.42,328.55 L265.58,326.64 L266.74,324.69 L267.90,322.69 L269.06,320.66 L270.22,318.58 L271.38,316.47 L272.54,314.31 L273.70,312.11 L274.86,309.87 L276.02,307.59 L276.02,325.94 L276.61,324.96 L277.19,323.97 L277.77,322.97 L278.36,321.96 L278.94,320.94 L279.52,319.91 L280.11,318.87 L280.69,317.82 L281.27,316.76 L281.86,315.69 L282.44,314.60 L283.02,313.51 L283.02,322.72 L283.32,322.21 L283.62,321.70 L283.92,321.19 L284.22,320.68 L284.52,320.17 L284.82,319.66 L285.12,319.15 L285.42,318.64 L285.72,318.13 L286.02,317.62 L286.32,317.11 L286.62,316.60 L286.62,321.43 L286.81,321.14 L287.00,320.84 L287.19,320.55 L287.38,320.25 L287.57,319.96 L287.76,319.66 L287.95,319.37 L288.14,319.07 L288.34,318.78 L288.53,318.48 L288.72,318.19 L288.91,317.89 L288.91,320.47 L289.05,320.33 L289.19,320.20 L289.33,320.06 L289.47,319.93 L289.62,319.80 L289.76,319.66 L289.90,319.53 L290.04,319.39 L290.18,319.26 L290.32,319.12 L290.47,318.99 L290.61,318.86 L291.52,319.50 L320.30,319.50" fill="none" stroke="#f03c3c" stroke-width="2.7" stroke-dasharray="3.30 12.20" stroke-dashoffset="14.92" stroke-linecap="round" stroke-linejoin="round"/>
<path d="M124.10,249.19 L124.47,249.20 L127.93,249.36 L131.39,249.52 L134.85,249.69 L138.32,249.86 L141.78,250.03 L145.24,250.21 L148.70,250.40 L152.16,250.59 L155.63,250.78 L159.09,250.98 L159.09,250.98 L159.09,319.50 L320.20,319.50" fill="none" stroke="#1d6fe4" stroke-width="3.0" stroke-dasharray="3.50 7.30 0.1 7.30" stroke-dashoffset="16.84" stroke-linecap="round" stroke-linejoin="round"/>
<path d="M266.3,48.8H279.6 M291.8,48.8H305.0 M317.0,48.8H330.1 M266.3,284.1H281.6 M293.9,284.1H306.7 M319.0,284.1H331.8 M267.6,47.5V60.4 M267.6,72.7V85.6 M267.6,97.8V110.7 M267.6,122.9V135.8 M267.6,148.1V161.0 M267.6,173.2V186.2 M267.6,198.4V211.3 M267.6,223.5V236.4 M267.6,248.7V261.6 M267.6,273.9V285.3 M332.6,58.1V71.1 M332.6,83.3V96.3 M332.6,108.5V121.5 M332.6,133.7V146.7 M332.6,158.9V171.9 M332.6,184.1V197.1 M332.6,209.3V222.3 M332.6,234.5V247.5 M332.6,259.7V272.7" stroke="#c00000" stroke-width="2.5" fill="none"/>
<line x1="267.1" y1="176.6" x2="194.5" y2="241.5" stroke="#c00000" stroke-width="1.5"/>
<path d="M184.8,250.4 L193.6,238.0 L195.6,241.6 L198.2,243.4 Z" fill="#c00000"/>
<line x1="396.9" y1="26.9" x2="450.1" y2="26.9" stroke="#000" stroke-width="1.3"/>
<line x1="397.1" y1="55.8" x2="449.6" y2="55.8" stroke="#f03c3c" stroke-width="2.4" stroke-dasharray="10.7 14.4" stroke-linecap="round"/>
<line x1="397.3" y1="84.4" x2="444.5" y2="84.4" stroke="#1d6fe4" stroke-width="2.8" stroke-dasharray="7.40 6.30 0.1 6.30" stroke-linecap="round"/>
</svg>
</body></html>
